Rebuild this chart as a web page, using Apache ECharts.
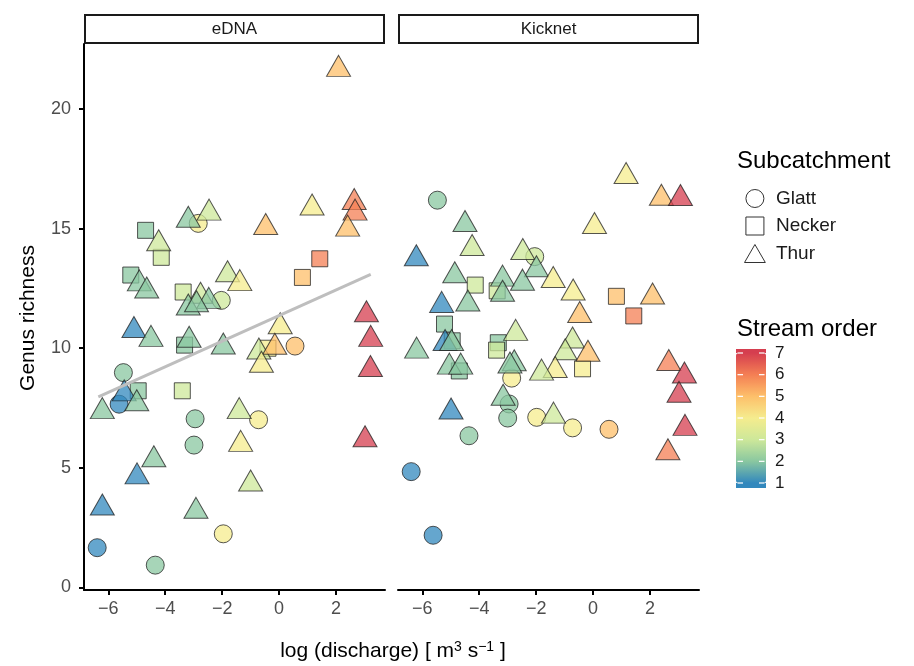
<!DOCTYPE html>
<html><head><meta charset="utf-8">
<script src="https://cdn.jsdelivr.net/npm/echarts@6/dist/echarts.min.js"></script>
<style>html,body{margin:0;padding:0;background:#fff}#c{width:914px;height:666px}</style>
</head><body><div id="c"></div>
<script>
const panels = ['eDNA', 'Kicknet'];
const subcatchments = ['Glatt', 'Necker', 'Thur'];
const xTicks = [-6, -4, -2, 0, 2];
const yTicks = [0, 5, 10, 15, 20];
const orderTicks = [1, 2, 3, 4, 5, 6, 7];
const orderColors = ['#3288BD', '#8ac7a0', '#cde89a', '#f5ec8e', '#fdbf6a', '#f47f54', '#D53E4F'];

// [log discharge, genus richness, stream order]
const ednaGlatt = [
  [-2.84, 15.22, 4], [-2.03, 12.0, 3], [0.56, 10.09, 5], [-5.47, 8.98, 2], [-5.62, 7.66, 1],
  [-2.95, 7.05, 2], [-2.99, 5.95, 2], [-0.72, 7.01, 4], [-1.96, 2.24, 4], [-6.39, 1.66, 1], [-4.35, 0.93, 2]
];
const ednaNecker = [
  [-4.69, 14.93, 2], [-4.14, 13.80, 3], [1.43, 13.74, 6], [0.82, 12.96, 5], [-5.21, 13.06, 2],
  [-3.37, 12.35, 3], [-3.32, 10.13, 2], [-0.39, 10.0, 4], [-4.95, 8.22, 2], [-3.40, 8.22, 3]
];
const ednaThur = [
  [2.09, 21.66, 5], [-3.19, 15.35, 2], [-2.46, 15.65, 3], [-0.47, 15.05, 5], [1.16, 15.86, 4],
  [2.64, 16.09, 6], [2.67, 15.65, 6], [2.41, 14.98, 5], [-4.23, 14.37, 3], [-4.91, 12.69, 2],
  [-4.65, 12.39, 2], [-1.81, 13.07, 3], [-1.38, 12.70, 4], [-2.76, 12.17, 3], [-2.47, 11.96, 2],
  [-3.19, 11.68, 2], [-2.90, 11.82, 2], [-5.10, 10.74, 1], [-4.50, 10.37, 2], [-3.16, 10.33, 2],
  [-1.96, 10.05, 2], [0.04, 10.90, 4], [-0.71, 9.84, 3], [-0.15, 10.04, 5], [-0.62, 9.29, 4],
  [3.07, 11.40, 7], [3.22, 10.37, 7], [3.21, 9.11, 7], [3.02, 6.17, 7], [-5.44, 8.09, 1],
  [-5.0, 7.68, 2], [-6.21, 7.35, 2], [-1.40, 7.35, 3], [-1.35, 5.98, 4], [-4.40, 5.34, 2],
  [-4.99, 4.62, 1], [-1.0, 4.32, 3], [-6.21, 3.32, 1], [-2.92, 3.18, 2]
];
const kickGlatt = [
  [-5.47, 16.19, 2], [-2.05, 13.83, 3], [-2.86, 8.75, 4], [-2.95, 7.67, 2], [-3.0, 7.08, 2],
  [-1.98, 7.11, 4], [-0.72, 6.67, 4], [0.56, 6.61, 5], [-4.36, 6.34, 2], [-6.39, 4.84, 1], [-5.62, 2.18, 1]
];
const kickNecker = [
  [-4.14, 12.64, 3], [-3.37, 12.40, 3], [0.82, 12.17, 5], [1.43, 11.35, 6], [-5.22, 11.01, 2],
  [-4.95, 10.31, 2], [-3.33, 10.23, 2], [-3.39, 9.92, 3], [-0.37, 9.14, 4], [-4.70, 9.05, 2]
];
const kickThur = [
  [1.16, 17.18, 4], [2.40, 16.27, 5], [3.07, 16.26, 7], [0.05, 15.09, 4], [-4.50, 15.17, 2],
  [-4.25, 14.17, 3], [-6.21, 13.74, 1], [-2.47, 14.0, 3], [-1.99, 13.28, 2], [-4.86, 13.03, 2],
  [-3.18, 12.89, 2], [-2.48, 12.72, 2], [-1.40, 12.83, 4], [-0.70, 12.31, 4], [2.09, 12.14, 5],
  [-4.40, 11.85, 2], [-5.32, 11.79, 1], [-3.18, 12.26, 2], [-0.47, 11.37, 5], [-6.20, 9.88, 2],
  [-5.20, 10.2, 1], [-4.97, 10.2, 2], [-2.72, 10.62, 3], [-0.72, 10.30, 3], [-0.98, 9.81, 3],
  [-0.18, 9.75, 5], [-1.33, 9.07, 4], [-1.81, 8.96, 3], [-5.05, 9.21, 2], [-4.65, 9.21, 2],
  [-2.77, 9.35, 2], [-2.92, 9.26, 2], [-3.16, 7.91, 2], [-1.39, 7.16, 3], [-4.99, 7.33, 1],
  [2.66, 9.36, 6], [3.21, 8.84, 7], [3.02, 8.03, 7], [3.23, 6.65, 7], [2.63, 5.63, 6]
];
// linear fit shown in the eDNA panel
const ednaFit = [[-6.35, 7.97], [3.22, 13.09]];

const FONT = '"Liberation Sans", Arial, Helvetica, sans-serif';
const panelData = [[ednaGlatt, ednaNecker, ednaThur], [kickGlatt, kickNecker, kickThur]];
const shapeSymbols = ['circle', 'rect', 'triangle'];
const shapeSizes = [18, 16, [24, 21]];
const shapeOffsets = [[0, 0], [0, 0], [0, -3.5]];
const legendIcons = ['circle', 'path://M0,0L10,0L10,10L0,10Z', 'path://M11,0L22,19L0,19Z'];

const X_MIN = -6.854, X_MAX = 3.722, Y_MIN = -0.109, Y_MAX = 22.72;
const fmt = v => (v < 0 ? '\u2212' + Math.abs(v) : String(v));

const grids = [
  { left: 84, top: 44, width: 301, height: 546 },
  { left: 398, top: 44, width: 301, height: 546 }
];

const xAxes = panels.map((p, i) => ({
  type: 'value', gridIndex: i, min: X_MIN, max: X_MAX,
  axisLine: { show: true, onZero: false, lineStyle: { color: '#000', width: 2 } },
  axisTick: { show: true, customValues: xTicks, length: 5, lineStyle: { color: '#000', width: 2 } },
  axisLabel: { customValues: xTicks, formatter: fmt, color: '#4d4d4d', fontSize: 18, margin: 10, fontFamily: FONT },
  splitLine: { show: false }
}));
const yAxes = [
  {
    type: 'value', gridIndex: 0, min: Y_MIN, max: Y_MAX,
    axisLine: { show: true, onZero: false, lineStyle: { color: '#000', width: 2 } },
    axisTick: { show: true, customValues: yTicks, length: 5, lineStyle: { color: '#000', width: 2 } },
    axisLabel: { customValues: yTicks, color: '#4d4d4d', fontSize: 18, margin: 13, fontFamily: FONT },
    splitLine: { show: false }
  },
  {
    type: 'value', gridIndex: 1, min: Y_MIN, max: Y_MAX, show: false,
    splitLine: { show: false }
  }
];

const series = [];
panels.forEach((p, pi) => {
  subcatchments.forEach((s, si) => {
    series.push({
      type: 'scatter', name: s, xAxisIndex: pi, yAxisIndex: pi,
      data: panelData[pi][si],
      symbol: shapeSymbols[si], symbolSize: shapeSizes[si], symbolOffset: shapeOffsets[si],
      itemStyle: { opacity: 0.75, borderColor: '#1e1e1e', borderWidth: 1 },
      emphasis: { disabled: true }, z: 2
    });
  });
});
series.push({
  type: 'line', name: 'fit', xAxisIndex: 0, yAxisIndex: 0, data: ednaFit,
  showSymbol: false, symbol: 'none', lineStyle: { color: '#bebebe', width: 3 }, z: 3, silent: true
});

// colour bar geometry
const CB_LEFT = 736, CB_TOP = 353, CB_W = 30, CB_H = 130;
const cbY = v => CB_TOP + (7 - v) * CB_H / 6;

const graphics = [];
panels.forEach((p, i) => {
  const g = grids[i];
  graphics.push({
    type: 'rect', shape: { x: g.left + 1, y: 15, width: g.width - 2, height: 28 },
    style: { fill: '#fff', stroke: '#1a1a1a', lineWidth: 2 }
  });
  graphics.push({
    type: 'text', x: g.left + g.width / 2, y: 29.5,
    style: { text: p, fill: '#1a1a1a', font: '17px ' + FONT, textAlign: 'center', textVerticalAlign: 'middle' }
  });
});
graphics.push({
  type: 'text', x: 28, y: 318, rotation: Math.PI / 2,
  style: { text: 'Genus richness', fill: '#000', font: '21px ' + FONT, textAlign: 'center', textVerticalAlign: 'middle' }
});
graphics.push({
  type: 'text', x: 393, y: 651,
  style: {
    text: 'log (discharge) [ m{sup|3} s{sup|\u22121} ]', fill: '#000', font: '21px ' + FONT,
    textAlign: 'center', textVerticalAlign: 'middle',
    rich: { sup: { fontSize: 14, fontFamily: FONT, verticalAlign: 'top', padding: [0, 0, 6, 0], fill: '#000' } }
  }
});
graphics.push({
  type: 'text', x: 737, y: 161,
  style: { text: 'Subcatchment', fill: '#000', font: '24px ' + FONT, textVerticalAlign: 'middle' }
});
graphics.push({
  type: 'text', x: 737, y: 329,
  style: { text: 'Stream order', fill: '#000', font: '24px ' + FONT, textVerticalAlign: 'middle' }
});
graphics.push({ type: 'rect', shape: { x: CB_LEFT, y: CB_TOP - 4, width: CB_W, height: 4 }, style: { fill: orderColors[6] } });
graphics.push({ type: 'rect', shape: { x: CB_LEFT, y: CB_TOP + CB_H, width: CB_W, height: 5 }, style: { fill: orderColors[0] } });
orderTicks.forEach(v => {
  const y = cbY(v);
  graphics.push({ type: 'line', shape: { x1: CB_LEFT + 1.5, y1: y, x2: CB_LEFT + 7, y2: y }, style: { stroke: '#fff', lineWidth: 1.2 }, z: 100 });
  graphics.push({ type: 'line', shape: { x1: CB_LEFT + CB_W - 7, y1: y, x2: CB_LEFT + CB_W - 1.5, y2: y }, style: { stroke: '#fff', lineWidth: 1.2 }, z: 100 });
  graphics.push({
    type: 'text', x: 775, y: y,
    style: { text: String(v), fill: '#1a1a1a', font: '17px ' + FONT, textVerticalAlign: 'middle' }
  });
});

const option = {
  backgroundColor: '#fff',
  animation: false,
  textStyle: { fontFamily: FONT },
  grid: grids,
  xAxis: xAxes,
  yAxis: yAxes,
  legend: {
    data: subcatchments.map((n, i) => ({ name: n, icon: legendIcons[i] })),
    orient: 'vertical', left: 744, top: 189, itemWidth: 22, itemHeight: 18, itemGap: 8.5, padding: 0,
    selectedMode: false,
    itemStyle: { color: 'rgba(255,255,255,0)', borderColor: '#333', borderWidth: 1, opacity: 1 },
    textStyle: { fontSize: 19, color: '#1a1a1a', fontFamily: FONT, padding: [0, 0, 0, 5] }
  },
  visualMap: {
    type: 'continuous', min: 1, max: 7, dimension: 2, seriesIndex: [0, 1, 2, 3, 4, 5],
    inRange: { color: orderColors }, calculable: false, orient: 'vertical',
    left: CB_LEFT, top: CB_TOP, itemWidth: CB_W, itemHeight: CB_H, padding: 0,
    hoverLink: false
  },
  series: series,
  graphic: graphics
};
const chart = echarts.init(document.getElementById('c'), null, { renderer: 'canvas' });
chart.setOption(option);
</script>
</body></html>
